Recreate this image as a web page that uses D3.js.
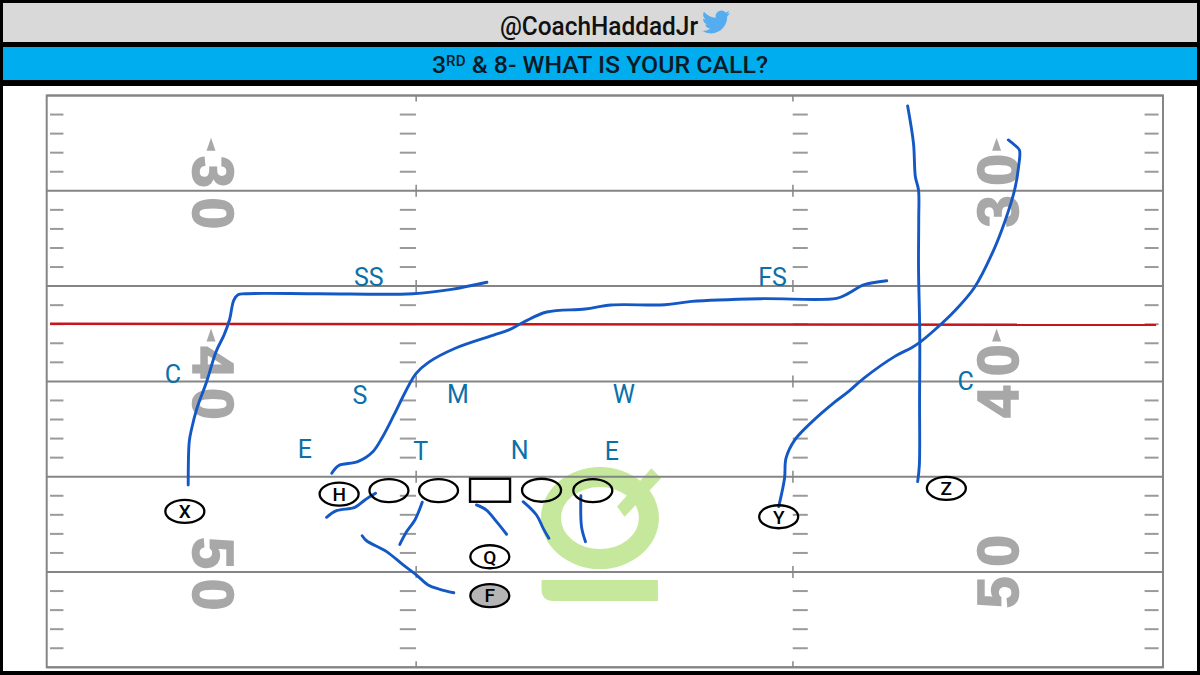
<!DOCTYPE html>
<html><head><meta charset="utf-8">
<script src="https://cdn.jsdelivr.net/npm/d3@7"></script>
<style>html,body{margin:0;padding:0;background:#000;overflow:hidden}svg{display:block}</style>
</head><body><div id="c"></div>
<script>
const handle = "@CoachHaddadJr";
const yardLines = [25,30,35,40,45,50,55];
const numberYards = [30,40,50];
const arrowYards = [30,40];
const firstDownYard = 37;

// Routes: [cross-field yards, yard line]
const routeX = [[6.76,45.44],[6.81,43.16],[6.91,42.55],[7.18,41.40],[7.64,40.02],[8.09,38.44],[8.47,37.57],[8.73,36.78],[8.94,35.73],[9.14,35.45],[9.47,35.40],[13.0,35.40],[17.49,35.40],[19.34,35.17],[21.03,34.80]];
const routeH = [[13.62,44.82],[13.94,44.42],[14.86,44.21],[15.58,43.69],[16.05,42.90],[16.59,41.76],[17.14,40.54],[17.65,39.58],[18.24,39.00],[19.52,38.26],[21.35,37.57],[22.08,37.30],[22.81,36.87],[23.89,36.36],[25.73,36.20],[26.97,35.99],[29.53,35.98],[30.82,35.80],[34.10,35.66],[37.74,35.64],[38.30,35.38],[39.03,34.94],[40.13,34.72]];
const routeZ = [[41.13,25.55],[41.41,27.51],[41.50,29.26],[41.65,29.96],[41.66,31.5],[41.65,33.98],[41.71,37.57],[41.70,41],[41.69,44.39],[41.61,45.26]];
const routeY = [[34.97,46.57],[35.25,45.08],[35.32,44.03],[35.74,43.07],[36.57,42.11],[37.57,41.15],[38.30,40.54],[39.03,39.84],[40.50,38.70],[41.32,38.23],[41.71,37.95],[42.51,37.21],[43.42,36.25],[44.33,35.06],[45.24,33.11],[45.80,31.53],[46.24,29.96],[46.43,28.74],[46.47,27.86],[46.24,27.60],[45.94,27.33]];
const blockLG = [[13.37,47.13],[13.85,46.78],[14.72,46.61],[15.20,46.22],[15.71,45.87]];
const blockLT = [[17.94,46.34],[17.59,47.27],[17.19,47.89],[16.87,48.55]];
const routeF = [[15.07,48.10],[15.28,48.36],[16.24,48.93],[17.03,49.63],[17.67,50.16],[18.22,50.68],[18.78,50.91],[19.45,51.09]];
const blockC = [[20.53,46.48],[21.01,46.75],[21.49,47.36],[21.97,48.02]];
const blockRG = [[22.76,46.31],[23.40,47.01],[23.72,47.71],[23.99,48.23]];
const blockRT = [[25.52,46.00],[25.55,47.62],[25.74,48.41]];
const routes = [routeX,routeH,routeZ,routeY,blockLG,blockLT,routeF,blockC,blockRG,blockRT];

const playerNames = ["H","","","Q","F","X","Y","Z","",""];
const playerX = [13.97,16.35,18.72,21.17,21.17,6.60,34.97,42.98,23.64,26.09];
const playerY = [45.91,45.73,45.73,49.20,51.24,46.82,47.10,45.61,45.71,45.73];
const centerSpot = [21.18,45.71];

const defenseNames = ["SS","FS","C","S","M","W","E","T","N","E","C"];
const defenseX = [15.39,34.68,6.03,14.96,19.64,27.57,12.33,17.87,22.60,27.00,43.90];
const defenseY = [34.52,34.52,39.61,40.71,40.66,40.66,43.55,43.65,43.60,43.65,39.98];

const W=1200,H=675;
const x = d3.scaleLinear().domain([0,53.33]).range([46.7,1163]);
const y = d3.scaleLinear().domain([25,55]).range([95.5,667.3]);
const UI = "'Roboto','Liberation Sans',sans-serif";

const svg = d3.select("#c").append("svg").attr("width",W).attr("height",H);
svg.append("rect").attr("width",W).attr("height",H).attr("fill","#000");
svg.append("rect").attr("x",3).attr("y",3).attr("width",1194).attr("height",39).attr("fill","#d9d9d9");
svg.append("rect").attr("x",3).attr("y",47).attr("width",1194).attr("height",33).attr("fill","#00aeef");
svg.append("rect").attr("x",3).attr("y",86).attr("width",1194).attr("height",585).attr("fill","#fff");

svg.append("text").attr("x",599).attr("y",35).attr("text-anchor","middle")
  .attr("font-family",UI).attr("font-size",25).attr("font-weight",500).attr("fill","#111")
  .attr("textLength",198).attr("lengthAdjust","spacingAndGlyphs").text(handle);
svg.append("path").attr("transform","translate(702,8) scale(1.17)").attr("fill","#55acee")
  .attr("d","M23.953 4.57a10 10 0 01-2.825.775 4.958 4.958 0 002.163-2.723c-.951.555-2.005.959-3.127 1.184a4.92 4.92 0 00-8.384 4.482C7.69 8.095 4.067 6.13 1.64 3.162a4.822 4.822 0 00-.666 2.475c0 1.71.87 3.213 2.188 4.096a4.904 4.904 0 01-2.228-.616v.06a4.923 4.923 0 003.946 4.827 4.996 4.996 0 01-2.212.085 4.936 4.936 0 004.604 3.417 9.867 9.867 0 01-6.102 2.105c-.39 0-.779-.023-1.17-.067a13.995 13.995 0 007.557 2.209c9.053 0 13.998-7.496 13.998-13.985 0-.21 0-.42-.015-.63A9.935 9.935 0 0024 4.59z");

const sub = svg.append("text").attr("x",600).attr("y",73).attr("text-anchor","middle")
  .attr("font-family",UI).attr("font-size",23).attr("font-weight",500).attr("fill","#0a1a26")
  .attr("textLength",336).attr("lengthAdjust","spacingAndGlyphs");
sub.append("tspan").text("3");
sub.append("tspan").attr("dy",-7).attr("font-size",14).text("RD");
sub.append("tspan").attr("dy",7).text(" & 8- WHAT IS YOUR CALL?");

// logo watermark
const logoG = svg.append("g").attr("fill","#c6e89c");
logoG.append("path").attr("fill-rule","evenodd")
  .attr("d",`M${x(26.43)-59},${y(47.17)}a59,51 0 1,0 118,0a59,51 0 1,0 -118,0Z M${x(26.43)-39},${y(47.17)}a39,31 0 1,0 78,0a39,31 0 1,0 -78,0Z`);
logoG.append("path").attr("d",d3.line().x(d=>x(d[0])).y(d=>y(d[1]))([[28.89,44.56],[29.35,45.08],[27.61,47.10],[27.25,46.57]])+"Z");
logoG.append("path").attr("d",`M${x(23.64)},${y(50.42)}H${x(29.2)}V${y(51.52)}H${x(23.64)+12}Q${x(23.64)},${y(51.52)} ${x(23.64)},${y(51.52)-12}Z`);

// field
const gray="#858585", hashGray="#9a9a9a";
const field = svg.append("g");
field.selectAll("line.y").data(yardLines).join("line")
  .attr("x1",x(0)).attr("x2",x(53.33)).attr("y1",d=>y(d)).attr("y2",d=>y(d))
  .attr("stroke",gray).attr("stroke-width",2);
field.append("rect").attr("x",x(0)).attr("y",y(25)).attr("width",x(53.33)-x(0)).attr("height",y(55)-y(25))
  .attr("fill","none").attr("stroke",gray).attr("stroke-width",2);

const hashYards = d3.range(25,55).filter(d=>d%5!==0);
const hashCols = [[0.16,0.80],[16.87,17.64],[35.64,36.36],[52.45,53.12]];
hashCols.forEach(c=>{
  field.selectAll(null).data(hashYards).join("line")
   .attr("x1",x(c[0])).attr("x2",x(c[1])).attr("y1",d=>y(d)).attr("y2",d=>y(d))
   .attr("stroke",hashGray).attr("stroke-width",2);
});
[17.65,35.65].forEach(c=>{
  field.selectAll(null).data(yardLines).join("line")
   .attr("x1",x(c)).attr("x2",x(c))
   .attr("y1",d=>Math.max(y(d)-6,y(25))).attr("y2",d=>Math.min(y(d)+6,y(55)))
   .attr("stroke",gray).attr("stroke-width",1.5);
});

// yard numbers
const numFont = "'Liberation Sans',sans-serif";
function digits(side){
  const cx = side<0 ? x(7.94) : x(45.47), rot = side<0 ? 90 : -90;
  numberYards.forEach(n=>{
    const s=String(n).split("");
    const chars = side<0 ? s : [s[1],s[0]];
    const offs = side<0 ? [-19,22.5] : [-21,20.5];
    chars.forEach((ch,i)=>{
      svg.append("text").attr("transform",`translate(${cx},${y(n)+offs[i]}) rotate(${rot})`)
        .attr("text-anchor","middle").attr("dy","0.345em")
        .attr("font-family",numFont).attr("font-weight",700).attr("font-size",57)
        .attr("fill","#a8a8a8").attr("stroke","#a8a8a8").attr("stroke-width",1.6).text(ch);
    });
  });
  arrowYards.forEach(n=>{
    const tx = side<0 ? x(7.85) : x(45.38), ty=y(n)-53;
    svg.append("path").attr("d",d3.line()([[tx,ty],[tx+4.5,ty+13],[tx-4.5,ty+13]])+"Z").attr("fill","#a8a8a8");
  });
}
digits(-1); digits(1);

// first-down line
svg.append("line").attr("x1",x(0.16)).attr("x2",x(53.0)).attr("y1",y(firstDownYard)-.4).attr("y2",y(firstDownYard)+.6)
  .attr("stroke","#c4161c").attr("stroke-width",2.4);

// routes
const lineGen = d3.line().x(d=>x(d[0])).y(d=>y(d[1])).curve(d3.curveCatmullRom.alpha(0.5));
svg.append("g").selectAll("path").data(routes).join("path")
  .attr("d",lineGen).attr("fill","none").attr("stroke","#1458c6").attr("stroke-width",2.9).attr("stroke-linecap","round");

// offense
const pl = svg.append("g").selectAll("g").data(playerNames).join("g")
  .attr("transform",(d,i)=>`translate(${x(playerX[i])},${y(playerY[i])})`);
pl.append("ellipse").attr("rx",19.5).attr("ry",11.5)
  .attr("fill",d=>d==="F"?"#b5b5b5":"none").attr("stroke","#000").attr("stroke-width",2.3);
pl.append("text").attr("text-anchor","middle").attr("dy","0.36em").attr("font-family",UI)
  .attr("font-size",19).attr("font-weight",500).attr("fill","#000").text(d=>d);
svg.append("rect").attr("x",x(centerSpot[0])-20).attr("y",y(centerSpot[1])-11.5).attr("width",40).attr("height",23)
  .attr("fill","none").attr("stroke","#000").attr("stroke-width",2.4);

// defense
svg.append("g").selectAll("text").data(defenseNames).join("text")
  .attr("x",(d,i)=>x(defenseX[i])).attr("y",(d,i)=>y(defenseY[i])).attr("dy","0.36em")
  .attr("text-anchor","middle").attr("font-family",UI).attr("font-size",25).attr("fill","#0b70a8").text(d=>d);
</script></body></html>
